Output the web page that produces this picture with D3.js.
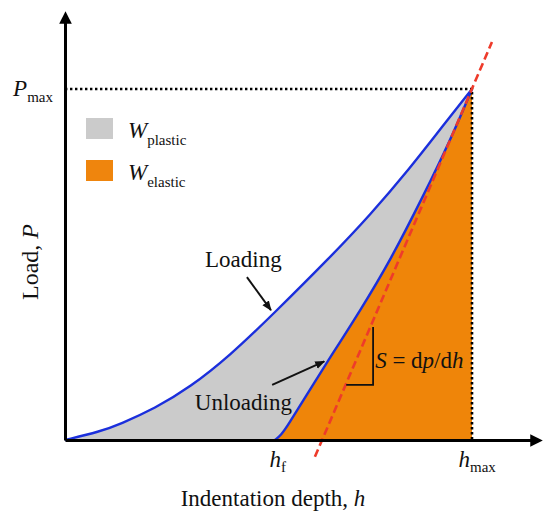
<html>
<head>
<script src="https://d3js.org/d3.v7.min.js"></script>
<style>
 body { margin: 0; background: #fff; }
 text { font-family: "Liberation Serif", "Times New Roman", serif; fill: #111; }
</style>
</head>
<body>
<svg width=546 height=515></svg>
<script>
	// curves, h and P as fractions of hmax and Pmax
	var loadH = [0, 0.086, 0.135, 0.221, 0.307, 0.405, 0.511, 0.651, 0.749, 0.848, 0.921, 1];
	var loadP = [0, 0.024, 0.045, 0.090, 0.150, 0.240, 0.358, 0.520, 0.640, 0.775, 0.884, 1];

	var unloadH = [0.516, 0.531, 0.548, 0.590, 0.644, 0.725, 0.801, 0.880, 0.946, 1];
	var unloadP = [0, 0.014, 0.042, 0.122, 0.222, 0.368, 0.515, 0.695, 0.852, 1];

	var tangentH = [0.614, 1.049];
	var tangentP = [-0.048, 1.134];

	var hf = 0.516, hmax = 1, pmax = 1;

	var legendNames = ["plastic", "elastic"];
	var legendColors = ["#cbcbcb", "#ef8509"];

	var svg = d3.select("svg");

	var x = d3.scaleLinear().domain([0, 1]).range([65, 472]);
	var y = d3.scaleLinear().domain([0, 1]).range([440, 89]);

	var loading = loadH.map(function(d, i) { return [d, loadP[i]]; });
	var unloading = unloadH.map(function(d, i) { return [d, unloadP[i]]; });

	var line = d3.line()
		.x(function(d) { return x(d[0]); })
		.y(function(d) { return y(d[1]); })
		.curve(d3.curveBasis);

	var area = d3.area()
		.x(function(d) { return x(d[0]); })
		.y0(y(0))
		.y1(function(d) { return y(d[1]); })
		.curve(d3.curveBasis);

	var defs = svg.append("defs");
	defs.append("marker")
		.attr("id", "head")
		.attr("viewBox", "0 0 10 10")
		.attr("refX", 9).attr("refY", 5)
		.attr("markerWidth", 5).attr("markerHeight", 5)
		.attr("orient", "auto")
		.append("path").attr("d", "M0,1L10,5L0,9Z").attr("fill", "#111");
	defs.append("marker")
		.attr("id", "axhead")
		.attr("viewBox", "0 0 10 10")
		.attr("refX", 1).attr("refY", 5)
		.attr("markerWidth", 5.5).attr("markerHeight", 4.2)
		.attr("orient", "auto")
		.attr("markerUnits", "strokeWidth")
		.append("path").attr("d", "M0,0L10,5L0,10Z").attr("fill", "#000");
	defs.append("filter").attr("id", "soft")
		.append("feGaussianBlur").attr("stdDeviation", 0.6);

	// W plastic under the loading curve, W elastic under unloading on top
	svg.append("path").datum(loading)
		.attr("d", area).attr("fill", legendColors[0]);
	svg.append("path").datum(unloading)
		.attr("d", area).attr("fill", legendColors[1]);

	svg.append("path").datum(loading)
		.attr("d", line).attr("fill", "none")
		.attr("stroke", "#1b2fdc").attr("stroke-width", 2.4);
	svg.append("path").datum(unloading)
		.attr("d", line).attr("fill", "none")
		.attr("stroke", "#1b2fdc").attr("stroke-width", 2.4);

	// dotted guides to Pmax and hmax
	svg.append("path")
		.attr("d", "M" + x(0) + "," + y(pmax) + "H" + x(hmax) + "V" + y(0))
		.attr("fill", "none").attr("stroke", "#000")
		.attr("stroke-width", 2.6).attr("stroke-dasharray", "2.4,2.6");

	svg.append("line")
		.attr("x1", x(tangentH[0])).attr("y1", y(tangentP[0]))
		.attr("x2", x(tangentH[1])).attr("y2", y(tangentP[1]))
		.attr("stroke", "#ee3b2b").attr("stroke-width", 2.6)
		.attr("stroke-dasharray", "8,4");

	// axes
	var xAxisScale = x.copy().domain([0, x.invert(531)]).range([65, 531]);
	var yAxisScale = y.copy().domain([0, y.invert(22)]).range([440, 22]);

	var gx = svg.append("g")
		.attr("transform", "translate(0," + y(0) + ")")
		.call(d3.axisBottom(xAxisScale).tickValues([hf, hmax]).tickSize(0).tickSizeOuter(0).tickFormat(""));
	var gy = svg.append("g")
		.attr("transform", "translate(" + x(0) + ",0)")
		.call(d3.axisLeft(yAxisScale).tickValues([pmax]).tickSize(0).tickSizeOuter(0).tickFormat(""));

	svg.selectAll(".domain")
		.attr("stroke", "#000").attr("stroke-width", 3)
		.attr("marker-end", "url(#axhead)");

	gx.selectAll(".tick text").remove();
	gy.selectAll(".tick text").remove();

	var xLabels = [["h", "f", -6], ["h", "max", -14]];
	gx.selectAll(".tick").append("text")
		.attr("y", 27)
		.attr("x", function(d, i) { return xLabels[i][2]; })
		.attr("text-anchor", "start")
		.style("font-size", "23px")
		.each(function(d, i) {
			var t = d3.select(this);
			t.append("tspan").style("font-style", "italic").text(xLabels[i][0]);
			t.append("tspan").attr("dy", 5).style("font-size", "15px").text(xLabels[i][1]);
		});

	gy.selectAll(".tick").append("text")
		.attr("x", -12).attr("y", 6)
		.attr("text-anchor", "end")
		.style("font-size", "23px")
		.each(function() {
			var t = d3.select(this);
			t.append("tspan").style("font-style", "italic").text("P");
			t.append("tspan").attr("dy", 6).style("font-size", "15px").text("max");
		});

	svg.append("text")
		.attr("x", 273).attr("y", 506)
		.attr("text-anchor", "middle")
		.style("font-size", "23px")
		.html("Indentation depth, <tspan font-style='italic'>h</tspan>");

	svg.append("text")
		.attr("transform", "translate(38,262) rotate(-90)")
		.attr("text-anchor", "middle")
		.style("font-size", "24px")
		.html("Load, <tspan font-style='italic'>P</tspan>");

	// legend
	var legend = svg.selectAll(".legend")
		.data(legendNames)
		.enter().append("g")
		.attr("class", "legend")
		.attr("transform", function(d, i) { return "translate(86," + (118 + i * 42) + ")"; });
	legend.append("rect")
		.attr("width", 27).attr("height", 21)
		.attr("fill", function(d, i) { return legendColors[i]; })
		.attr("filter", "url(#soft)");
	legend.append("text")
		.attr("x", 42).attr("y", 20)
		.style("font-size", "23px")
		.each(function(d) {
			var t = d3.select(this);
			t.append("tspan").style("font-style", "italic").text("W");
			t.append("tspan").attr("dy", 7).style("font-size", "15px").text(d);
		});

	// annotations, positioned in data units
	var notes = [
		{text: "Loading", h: 0.344, p: 0.493, from: [0.447, 0.464], to: [0.506, 0.370]},
		{text: "Unloading", h: 0.319, p: 0.085, from: [0.509, 0.157], to: [0.637, 0.224]}
	];
	notes.forEach(function(n) {
		svg.append("text")
			.attr("x", x(n.h)).attr("y", y(n.p))
			.style("font-size", "23px")
			.text(n.text);
		svg.append("line")
			.attr("x1", x(n.from[0])).attr("y1", y(n.from[1]))
			.attr("x2", x(n.to[0])).attr("y2", y(n.to[1]))
			.attr("stroke", "#111").attr("stroke-width", 2)
			.attr("marker-end", "url(#head)");
	});

	// slope triangle for S
	var slopeH = [0.691, 0.757];
	var slopeP = [0.157, 0.322];
	svg.append("path")
		.attr("d", "M" + x(slopeH[0]) + "," + y(slopeP[0]) + "H" + x(slopeH[1]) + "V" + y(slopeP[1]))
		.attr("fill", "none").attr("stroke", "#111").attr("stroke-width", 1.8);

	svg.append("text")
		.attr("x", x(0.762)).attr("y", y(0.205))
		.style("font-size", "23px")
		.html("<tspan font-style='italic'>S</tspan> = d<tspan font-style='italic'>p</tspan>/d<tspan font-style='italic'>h</tspan>");
</script>
</body>
</html>
